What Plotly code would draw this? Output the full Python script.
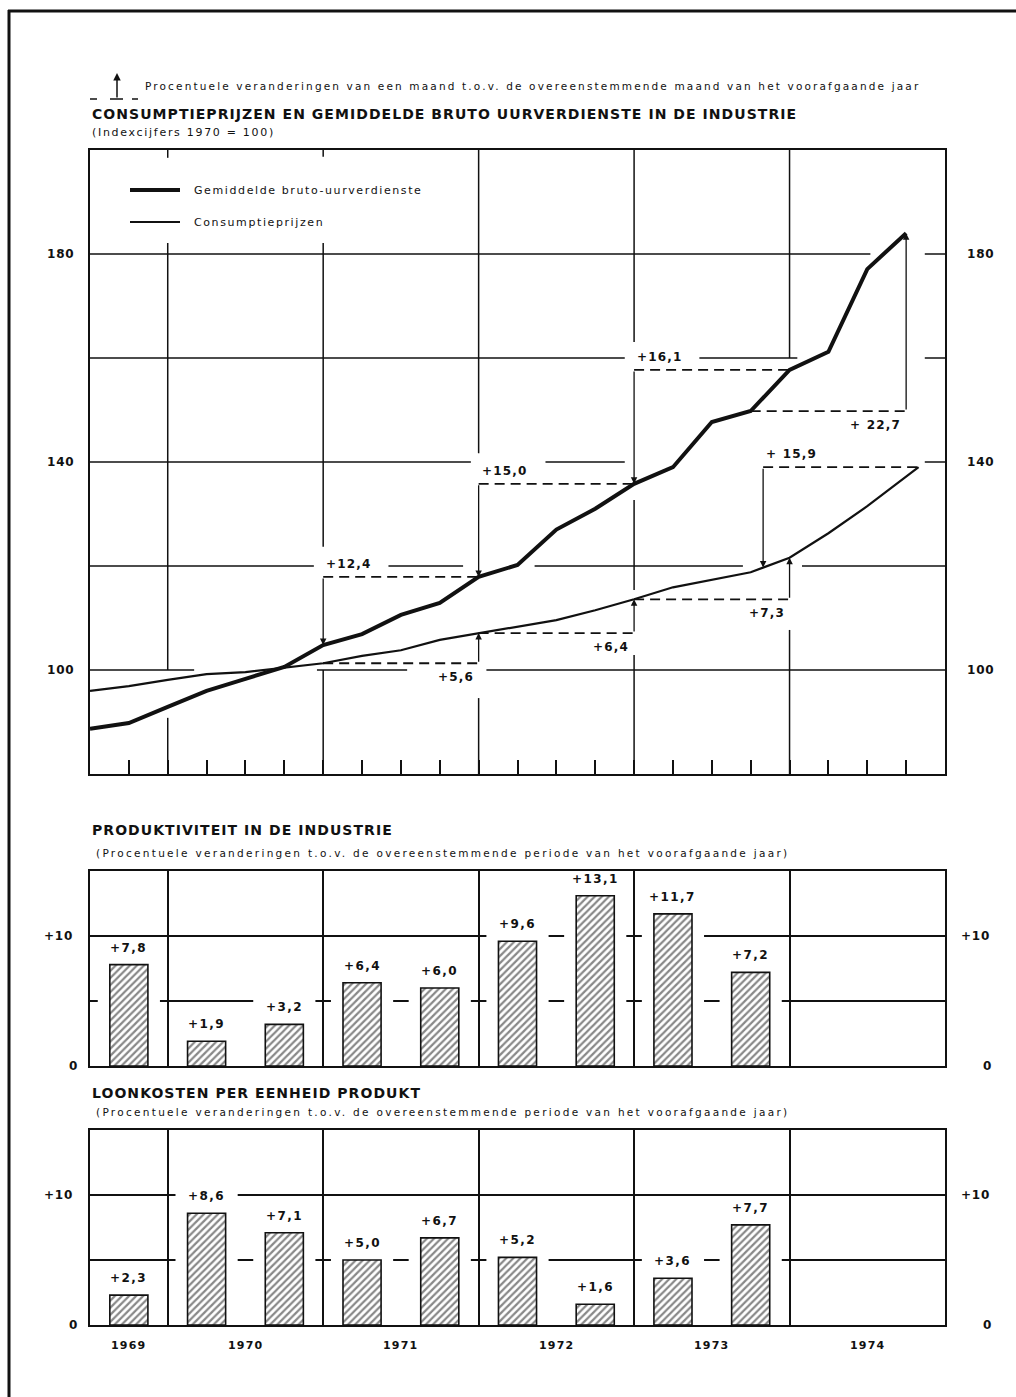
import numpy as np
import plotly.graph_objects as go

W, H = 1016, 1397
FONT = "DejaVu Sans"
INK = "#111111"

# ---- data -------------------------------------------------------------
QUARTERS = [1969.5, 1969.75, 1970.0, 1970.25, 1970.5, 1970.75, 1971.0, 1971.25,
            1971.5, 1971.75, 1972.0, 1972.25, 1972.5, 1972.75, 1973.0, 1973.25,
            1973.5, 1973.75, 1974.0, 1974.25, 1974.5, 1974.75]
EARNINGS = [88.7, 89.8, 92.9, 96.0, 98.3, 100.6, 104.8, 106.9, 110.6, 112.9,
            117.9, 120.2, 127.0, 131.0, 135.8, 139.0, 147.7, 149.8, 157.7, 161.2,
            177.1, 184.0]
PRICES_X = QUARTERS + [1974.83]
PRICES = [96.0, 96.9, 98.1, 99.2, 99.6, 100.5, 101.3, 102.7, 103.8, 105.8,
          107.1, 108.3, 109.6, 111.5, 113.6, 115.9, 117.4, 118.8, 121.6, 126.3,
          131.5, 137.2, 139.0]

# (series, from, to, label, style)
CHANGES = [
    ("earn", 1971.0, 1972.0, "+12,4", "down"),
    ("earn", 1972.0, 1973.0, "+15,0", "down"),
    ("earn", 1973.0, 1974.0, "+16,1", "down"),
    ("earn", 1973.75, 1974.75, "+ 22,7", "up"),
    ("price", 1971.0, 1972.0, "+5,6", "up"),
    ("price", 1972.0, 1973.0, "+6,4", "up"),
    ("price", 1973.0, 1974.0, "+7,3", "up"),
    ("price", 1973.83, 1974.83, "+ 15,9", "down"),
]

HALF_YEARS = [1969.75, 1970.25, 1970.75, 1971.25, 1971.75, 1972.25, 1972.75, 1973.25, 1973.75]
PRODUCTIVITY = [7.8, 1.9, 3.2, 6.4, 6.0, 9.6, 13.1, 11.7, 7.2]
UNIT_LABOUR_COST = [2.3, 8.6, 7.1, 5.0, 6.7, 5.2, 1.6, 3.6, 7.7]

YEARS = ["1969", "1970", "1971", "1972", "1973", "1974"]
YEAR_POS = [1969.75, 1970.5, 1971.5, 1972.5, 1973.5, 1974.5]
INDEX_TICKS = [100, 140, 180]

# ---- grid with the hand-drawn gaps of the original (layout only) -----
H_GRID = {
    180: [(1969.5, 1974.52), (1974.87, 1975.0)],
    160: [(1969.5, 1972.94), (1973.42, 1974.05), (1974.87, 1975.0)],
    140: [(1969.5, 1971.95), (1972.43, 1972.94), (1974.87, 1975.0)],
    120: [(1969.5, 1970.94), (1971.42, 1971.90), (1972.36, 1973.70), (1974.08, 1975.0)],
    100: [(1969.5, 1970.17), (1970.96, 1971.54), (1972.05, 1975.0)],
}
V_GRID = {
    1970: [(80, 90.8), (100, 182.1), (198.5, 200)],
    1971: [(80, 100), (123.7, 182.1), (198.7, 200)],
    1972: [(80, 94.6), (141.7, 200)],
    1973: [(80, 102.9), (115.4, 132.7), (163.1, 200)],
    1974: [(80, 107.7), (160, 200)],
}


def P(px, py):
    return px / W, 1 - py / H


def sp(text, ls=0.0, bold=False):
    t = f"<b>{text}</b>" if bold else text
    return f'<span style="letter-spacing:{ls}px">{t}</span>' if ls else t


fig = go.Figure()
shapes, annos = [], []

# ---- top chart --------------------------------------------------------
fig.add_trace(go.Scatter(x=QUARTERS, y=EARNINGS, mode="lines",
                         line=dict(color=INK, width=4), xaxis="x", yaxis="y",
                         name="Gemiddelde bruto-uurverdienste", showlegend=False))
fig.add_trace(go.Scatter(x=PRICES_X, y=PRICES, mode="lines",
                         line=dict(color=INK, width=2.2), xaxis="x", yaxis="y",
                         name="Consumptieprijzen", showlegend=False))

for val, segs in H_GRID.items():
    for x0, x1 in segs:
        shapes.append(dict(type="line", xref="x", yref="y", x0=x0, x1=x1, y0=val, y1=val,
                           line=dict(color=INK, width=1.5), layer="below"))
for yr, segs in V_GRID.items():
    for y0, y1 in segs:
        shapes.append(dict(type="line", xref="x", yref="y", x0=yr, x1=yr, y0=y0, y1=y1,
                           line=dict(color=INK, width=1.5), layer="below"))

series = {"earn": (QUARTERS, EARNINGS), "price": (PRICES_X, PRICES)}
for key, x_from, x_to, label, style in CHANGES:
    xs, ys = series[key]
    v_from = float(np.interp(x_from, xs, ys))
    v_to = float(np.interp(x_to, xs, ys))
    if style == "down":
        level, ax, tip = v_to, x_from, v_from
        annos.append(dict(x=x_from, y=level, xref="x", yref="y", text=sp(label, 1.2, True),
                          showarrow=False, xanchor="left", yanchor="middle", yshift=13, xshift=1,
                          font=dict(family=FONT, size=12, color=INK)))
    else:
        level, ax, tip = v_from, x_to, v_to
        annos.append(dict(x=x_to, y=level, xref="x", yref="y", text=sp(label, 1.2, True),
                          showarrow=False, xanchor="right", yanchor="middle", yshift=-14, xshift=-3,
                          font=dict(family=FONT, size=12, color=INK)))
    shapes.append(dict(type="line", xref="x", yref="y", x0=x_from, x1=x_to, y0=level, y1=level,
                       line=dict(color=INK, width=1.8, dash="10px,6px")))
    annos.append(dict(x=ax, y=tip, ax=ax, ay=level, xref="x", yref="y", axref="x", ayref="y",
                      text="", showarrow=True, arrowhead=2, arrowsize=1, arrowwidth=1.3,
                      arrowcolor=INK, standoff=0))

for v in INDEX_TICKS:
    for px in (60, 980):
        annos.append(dict(x=px / W, y=v, xref="paper", yref="y", text=sp(str(v), 0.8, True),
                          showarrow=False, xanchor="center", yanchor="middle",
                          font=dict(family=FONT, size=12, color=INK)))

# legend inside the top chart
for py, w, label in [(190, 4, "Gemiddelde bruto-uurverdienste"), (222, 2, "Consumptieprijzen")]:
    x0, y0 = P(130, py)
    x1, _ = P(180, py)
    shapes.append(dict(type="line", xref="paper", yref="paper", x0=x0, x1=x1, y0=y0, y1=y0,
                       line=dict(color=INK, width=w)))
    tx, ty = P(192, py)
    annos.append(dict(x=tx, y=ty, xref="paper", yref="paper", text=sp(label, 1.6),
                      showarrow=False, xanchor="left", yanchor="middle",
                      font=dict(family=FONT, size=11, color=INK)))

# ---- bar panels -------------------------------------------------------
for values, xa, ya in [(PRODUCTIVITY, "x2", "y2"), (UNIT_LABOUR_COST, "x3", "y3")]:
    fig.add_trace(go.Bar(x=HALF_YEARS, y=[v + 2.0 for v in values], width=0.4,
                         marker=dict(color="white", line=dict(width=0)),
                         xaxis=xa, yaxis=ya, showlegend=False, hoverinfo="skip"))
    fig.add_trace(go.Bar(x=HALF_YEARS, y=values, width=0.245,
                         marker=dict(color="white", line=dict(color=INK, width=1.6),
                                     pattern=dict(shape="/", fgcolor=INK, bgcolor="white",
                                                  size=5, solidity=0.45)),
                         xaxis=xa, yaxis=ya, showlegend=False))
    for x, v in zip(HALF_YEARS, values):
        annos.append(dict(x=x, y=v, xref=xa, yref=ya, yshift=8,
                          text=sp(f"+{v:.1f}".replace(".", ","), 1.4, True),
                          showarrow=False, xanchor="center", yanchor="bottom",
                          font=dict(family=FONT, size=12, color=INK)))
    for v, lab, lx, rx in [(10, "+10", 58, 975), (0, "0", 73, 987)]:
        for px in (lx, rx):
            annos.append(dict(x=px / W, y=v, xref="paper", yref=ya, text=sp(lab, 0.8, True),
                              showarrow=False, xanchor="center", yanchor="middle",
                              font=dict(family=FONT, size=12, color=INK)))

for yr, pos in zip(YEARS, YEAR_POS):
    annos.append(dict(x=pos, y=1 - 1345 / H, xref="x3", yref="paper", text=sp(yr, 1.2, True),
                      showarrow=False, xanchor="center", yanchor="middle",
                      font=dict(family=FONT, size=11, color=INK)))

# ---- titles -----------------------------------------------------------
SUB = "(Procentuele veranderingen t.o.v. de overeenstemmende periode van het voorafgaande jaar)"
titles = [
    (143, 86, "Procentuele veranderingen van een maand t.o.v. de overeenstemmende maand van het voorafgaande jaar", 10.5, 2.15, False),
    (90, 114, "CONSUMPTIEPRIJZEN EN GEMIDDELDE BRUTO UURVERDIENSTE IN DE INDUSTRIE", 14, 1.05, True),
    (90, 132, "(Indexcijfers 1970 = 100)", 11, 1.7, False),
    (90, 830, "PRODUKTIVITEIT IN DE INDUSTRIE", 14, 1.05, True),
    (94, 853, SUB, 10.5, 2.3, False),
    (90, 1093, "LOONKOSTEN PER EENHEID PRODUKT", 14, 1.05, True),
    (94, 1112, SUB, 10.5, 2.3, False),
]
for px, py, text, size, ls, bold in titles:
    x, y = P(px, py)
    annos.append(dict(x=x, y=y, xref="paper", yref="paper", text=sp(text, ls, bold),
                      showarrow=False, xanchor="left", yanchor="middle",
                      font=dict(family=FONT, size=size, color=INK)))

# small key: dashed base with arrow
for a, b in [(90, 97), (110, 123), (132, 138)]:
    x0, y0 = P(a, 99)
    x1, _ = P(b, 99)
    shapes.append(dict(type="line", xref="paper", yref="paper", x0=x0, x1=x1, y0=y0, y1=y0,
                       line=dict(color=INK, width=1.5)))
kx, ky = P(117, 73)
annos.append(dict(x=kx, y=ky, xref="paper", yref="paper", ax=0, ay=26, text="",
                  showarrow=True, arrowhead=2, arrowsize=1, arrowwidth=1.5, arrowcolor=INK,
                  standoff=0))

# page border
shapes.append(dict(type="line", xref="paper", yref="paper", x0=9 / W, x1=9 / W, y0=1 - 10 / H, y1=0,
                   line=dict(color=INK, width=3)))
shapes.append(dict(type="line", xref="paper", yref="paper", x0=8 / W, x1=1, y0=1 - 11 / H, y1=1 - 11 / H,
                   line=dict(color=INK, width=3)))

# ---- axes -------------------------------------------------------------
x_dom = [90 / W, 945 / W]
frame = dict(showline=True, linecolor=INK, linewidth=2, mirror=True, zeroline=False)
bar_x = dict(range=[1969.5, 1975.0], domain=x_dom, showgrid=False, showticklabels=False, ticks="",
             minor=dict(tickvals=[1970, 1971, 1972, 1973, 1974], showgrid=True,
                        gridcolor=INK, gridwidth=1.5, ticks=""), **frame)
bar_y = dict(range=[0, 15], tickvals=[5, 10], showgrid=True, gridcolor=INK, gridwidth=1.5,
             showticklabels=False, ticks="", **frame)

fig.update_layout(
    width=W, height=H,
    margin=dict(l=0, r=0, t=0, b=0),
    paper_bgcolor="white", plot_bgcolor="white",
    font=dict(family=FONT, color=INK),
    barmode="overlay",
    xaxis=dict(range=[1969.5, 1975.0], domain=x_dom, anchor="y", showgrid=False,
               tickvals=QUARTERS, ticks="inside", ticklen=14, tickwidth=1.5, tickcolor=INK,
               showticklabels=False, **frame),
    yaxis=dict(range=[80, 200], domain=[1 - 774 / H, 1 - 150 / H], anchor="x",
               showgrid=False, showticklabels=False, ticks="", **frame),
    xaxis2=dict(anchor="y2", **bar_x),
    yaxis2=dict(anchor="x2", domain=[1 - 1066 / H, 1 - 871 / H], **bar_y),
    xaxis3=dict(anchor="y3", **bar_x),
    yaxis3=dict(anchor="x3", domain=[1 - 1325 / H, 1 - 1130 / H], **bar_y),
    shapes=shapes,
    annotations=annos,
)

# the page body has a default 8px margin; drop it so the figure sits at 0,0
fig.write_html("out.html", config={"displayModeBar": False},
               post_script="document.body.style.margin='0px';")
